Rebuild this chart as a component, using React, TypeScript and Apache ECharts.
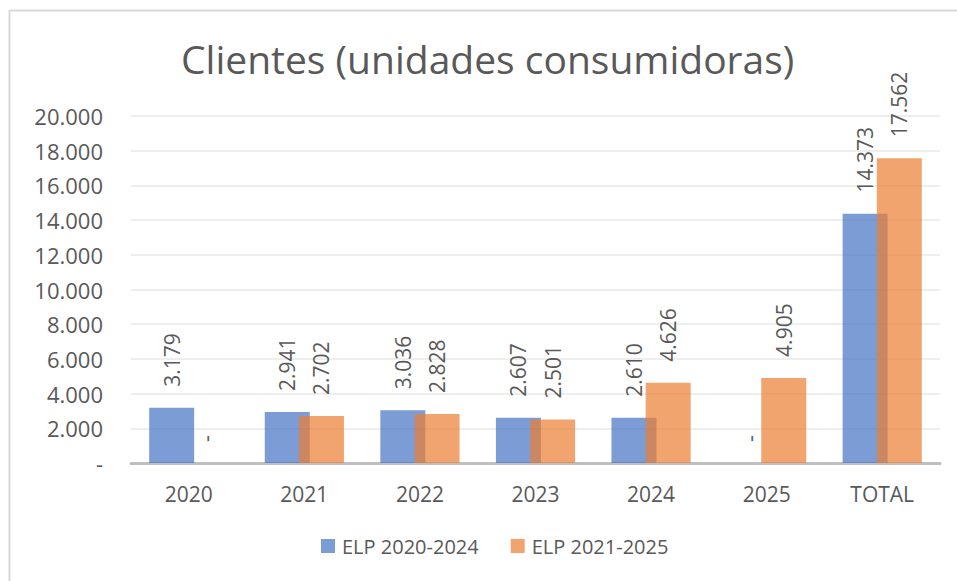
import React, { useEffect, useRef } from "react";
import * as echarts from "echarts";

const categories = ["2020", "2021", "2022", "2023", "2024", "2025", "TOTAL"];
const seriesNames = ["ELP 2020-2024", "ELP 2021-2025"];
const elp2020_2024 = [3179, 2941, 3036, 2607, 2610, 0, 14373];
const elp2021_2025 = [0, 2702, 2828, 2501, 4626, 4905, 17562];
const yMin = 0;
const yMax = 20000;
const yInterval = 2000;

const FONT = "'Open Sans', 'Noto Sans', sans-serif";
const TEXT = "#595959";

function fmt(v: number): string {
  if (v === 0) return "-";
  return String(v).replace(/\B(?=(\d{3})+(?!\d))/g, ".");
}

export default function App() {
  const ref = useRef<HTMLDivElement>(null);
  useEffect(() => {
    if (!ref.current) return;
    const chart = echarts.init(ref.current, undefined, { renderer: "svg" });
    const label = {
      show: true,
      position: "top" as const,
      rotate: 90,
      align: "left" as const,
      verticalAlign: "middle" as const,
      distance: 21,
      fontFamily: FONT,
      fontSize: 21,
      color: TEXT,
      formatter: (p: any) => fmt(p.value),
    };
    chart.setOption({
      animation: false,
      backgroundColor: "#ffffff",
      title: {
        text: "Clientes (unidades consumidoras)",
        left: 176,
        top: 34,
        textStyle: { fontFamily: FONT, fontSize: 39, fontWeight: "normal", color: TEXT },
      },
      legend: {
        bottom: 20,
        left: 316,
        itemWidth: 14,
        itemHeight: 14,
        itemGap: 32,
        icon: "rect",
        textStyle: { fontFamily: FONT, fontSize: 20, color: TEXT, padding: [0, 0, 0, 2] },
        data: seriesNames,
      },
      grid: { left: 131, right: 17, top: 116, bottom: 118, containLabel: false },
      xAxis: {
        type: "category",
        data: categories,
        axisTick: { show: false },
        axisLine: { lineStyle: { color: "#BFBFBF", width: 3 } },
        axisLabel: { fontFamily: FONT, fontSize: 21, color: TEXT, margin: 20 },
      },
      yAxis: {
        type: "value",
        min: yMin,
        max: yMax,
        interval: yInterval,
        axisLine: { show: false },
        axisTick: { show: false },
        splitLine: { lineStyle: { color: "#E8E8E8", width: 1.5 } },
        axisLabel: {
          fontFamily: FONT,
          fontSize: 22,
          color: TEXT,
          margin: 28,
          formatter: (v: number) => fmt(v),
        },
      },
      series: [
        {
          name: seriesNames[0],
          type: "bar",
          data: elp2020_2024,
          barWidth: 45,
          barGap: "-24%",
          itemStyle: { color: "rgba(68,114,196,0.7)" },
          label,
        },
        {
          name: seriesNames[1],
          type: "bar",
          data: elp2021_2025,
          barWidth: 45,
          barGap: "-24%",
          itemStyle: { color: "rgba(237,125,49,0.7)" },
          label,
        },
      ],
      graphic: [
        {
          type: "line",
          shape: { x1: 9.5, y1: 10, x2: 9.5, y2: 581 },
          style: { stroke: "#D9D9D9", lineWidth: 2 },
          silent: true,
        },
        {
          type: "line",
          shape: { x1: 9, y1: 10.5, x2: 957, y2: 10.5 },
          style: { stroke: "#D9D9D9", lineWidth: 2 },
          silent: true,
        },
      ],
    });
    return () => chart.dispose();
  }, []);
  return (
    <div
      ref={ref}
      style={{ position: "absolute", left: 0, top: 0, width: 957, height: 581 }}
    />
  );
}
